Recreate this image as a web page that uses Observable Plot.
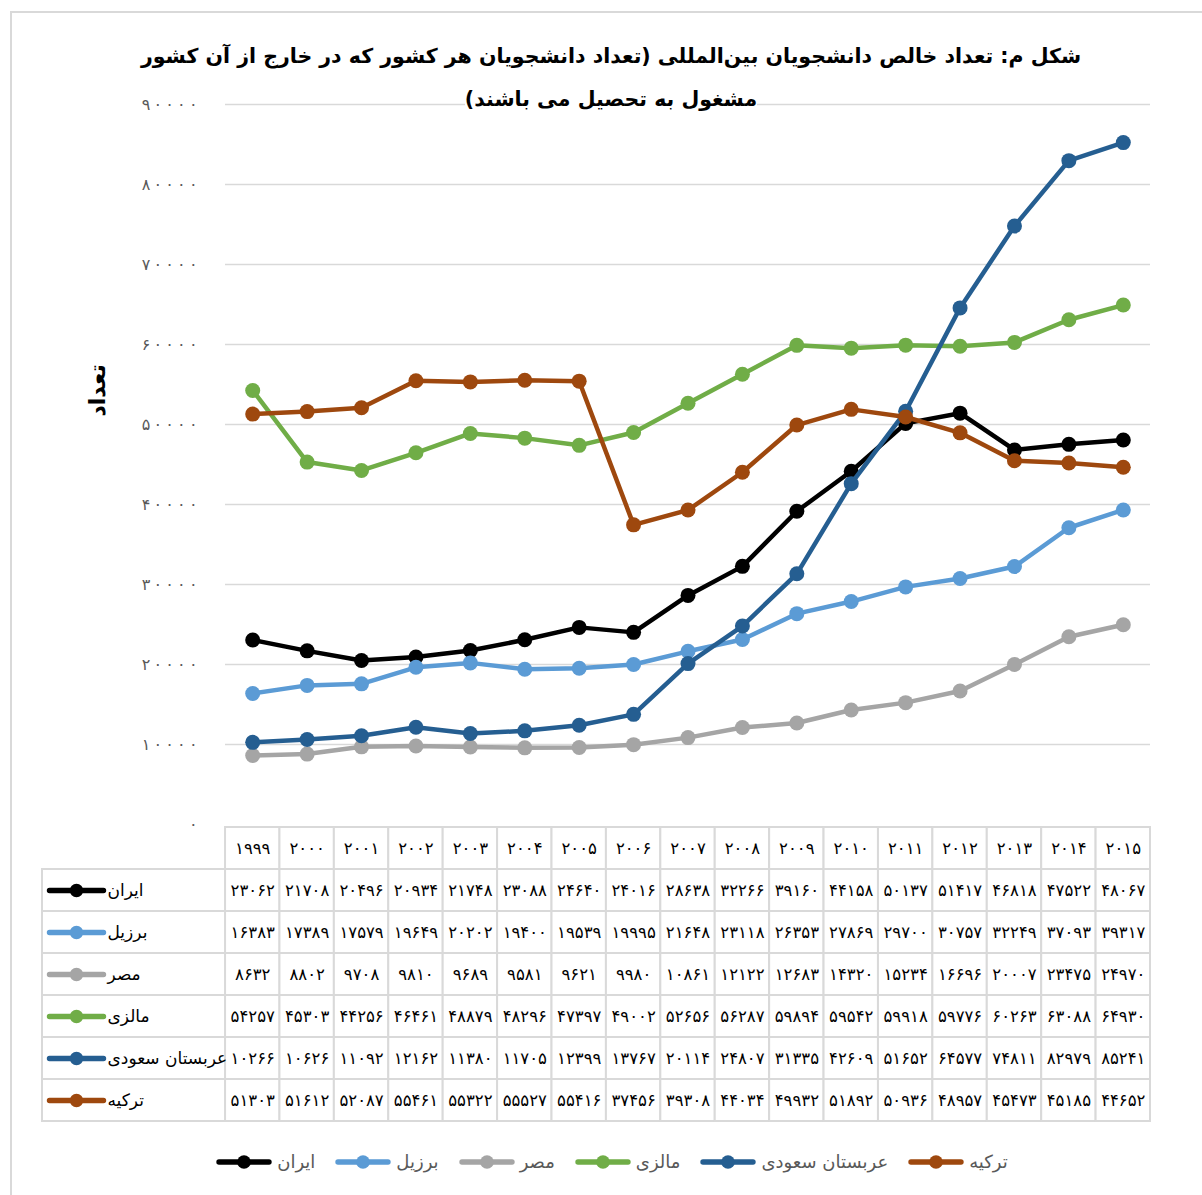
<!DOCTYPE html>
<html><head><meta charset="utf-8">
<script src="https://cdn.jsdelivr.net/npm/d3@7"></script>
<script src="https://cdn.jsdelivr.net/npm/@observablehq/plot@0.6"></script>
<style>
body{margin:0;background:#fff;font-family:"DejaVu Sans",sans-serif;}
#wrap{position:relative;width:1202px;height:1195px;overflow:hidden;background:#fff}
#frame{position:absolute;left:10px;top:11px;width:1200px;height:1200px;border:2px solid #d9d9d9;box-sizing:border-box}
#chart{position:absolute;left:0;top:0}
#table{position:absolute;left:0;top:825px}
#title{position:absolute;left:10px;top:35px;width:1202px;text-align:center;font-weight:bold;font-size:20.5px;line-height:43px;color:#000;direction:rtl}
#title span{background:#fff}
#legend{position:absolute;left:11px;top:1151px;width:1202px;display:flex;justify-content:center;align-items:center;color:#595959;font-size:18px}
#legend .item{display:flex;align-items:center;margin:0 10px}
#legend .item svg{margin-right:5px}
</style>
</head><body>
<div id="wrap">
  <div id="frame"></div>
  <div id="chart"></div>
  <div id="table"></div>
  <div id="title"></div>
  <div id="legend"></div>
</div>
<script>
const titleLines = ["شکل م: تعداد خالص دانشجویان بین‌المللی (تعداد دانشجویان هر کشور که در خارج از آن کشور", "مشغول به تحصیل می باشند)"];
const yTitle = "تعداد";
const years = [1999,2000,2001,2002,2003,2004,2005,2006,2007,2008,2009,2010,2011,2012,2013,2014,2015];
const countries = ["ایران","برزیل","مصر","مالزی","عربستان سعودی","ترکیه"];
const colors = ["#000000","#5b9bd5","#a5a5a5","#70ad47","#255e91","#9e480e"];
const iran     = [23062,21708,20496,20934,21748,23088,24640,24016,28638,32266,39160,44158,50137,51417,46818,47522,48067];
const brazil   = [16383,17389,17579,19649,20202,19400,19539,19995,21648,23118,26353,27869,29700,30757,32249,37093,39317];
const egypt    = [8632,8802,9708,9810,9689,9581,9621,9980,10861,12122,12683,14320,15234,16696,20007,23475,24970];
const malaysia = [54257,45303,44256,46461,48879,48296,47397,49002,52656,56287,59894,59542,59918,59776,60263,63088,64930];
const saudi    = [10266,10626,11092,12162,11380,11705,12399,13767,20114,24807,31335,42609,51652,64577,74811,82979,85241];
const turkey   = [51303,51612,52087,55461,55322,55527,55416,37456,39308,44034,49932,51892,50936,48957,45473,45185,44652];
const yTicks = [0,10000,20000,30000,40000,50000,60000,70000,80000,90000];

const series = [iran, brazil, egypt, malaysia, saudi, turkey];
const fa = v => String(v).replace(/\d/g, d => "۰۱۲۳۴۵۶۷۸۹"[+d]);
const faSpaced = v => [...fa(v)].join("\u2009");
const rows = countries.flatMap((c,i) => years.map((yr,j) => ({country:c, year:yr, value:series[i][j]})));
const colorScale = {domain: countries, range: colors};

// title
document.getElementById("title").innerHTML = titleLines.map(l => `<span>${l}</span>`).join("<br>");

// main chart
const chart = Plot.plot({
  width: 1202, height: 826,
  marginTop: 104, marginBottom: 2, marginLeft: 225, marginRight: 52,
  x: {type: "linear", domain: [years[0]-0.5, years[years.length-1]+0.5], axis: null},
  y: {domain: [0, 90000]},
  color: colorScale,
  style: {background: "transparent", fontFamily: "DejaVu Sans", overflow: "visible"},
  marks: [
    Plot.ruleY(yTicks.filter(d => d > 0), {stroke: "#d9d9d9", strokeWidth: 1.5, strokeOpacity: 1}),
    Plot.axisY(yTicks, {tickSize: 0, tickPadding: 28, tickFormat: faSpaced, fontSize: 16, color: "#595959", label: null}),
    ...countries.flatMap(c => {
      const d = rows.filter(r => r.country === c);
      return [
        Plot.line(d, {x: "year", y: "value", stroke: "country", strokeWidth: 4.5}),
        Plot.dot(d, {x: "year", y: "value", fill: "country", r: 7.5})
      ];
    }),
    Plot.text([yTitle], {frameAnchor: "top-left", dx: -136, dy: 312, rotate: -90, fontSize: 22, fontWeight: "bold", fill: "#000"})
  ]
});
document.getElementById("chart").append(chart);

// swatch symbol (line with dot)
const swatch = {draw(ctx) {
  const w = 27, h = 2.7, r = 6.8;
  ctx.moveTo(-w, -h); ctx.lineTo(w, -h);
  ctx.arc(w, 0, h, -Math.PI/2, Math.PI/2);
  ctx.lineTo(-w, h);
  ctx.arc(-w, 0, h, Math.PI/2, 3*Math.PI/2);
  ctx.closePath();
  ctx.moveTo(r, 0); ctx.arc(0, 0, r, 0, 2*Math.PI); ctx.closePath();
}};

// data table
const labelCols = 3.364;
const left = years[0] - 0.5 - labelCols;
const tbl = Plot.plot({
  width: 1202, height: 298,
  marginTop: 1, marginBottom: 1, marginLeft: 42, marginRight: 52,
  x: {type: "linear", domain: [left, years[years.length-1]+0.5], axis: null},
  y: {type: "band", domain: ["h", ...countries], padding: 0, axis: null},
  color: colorScale,
  style: {background: "transparent", fontFamily: "DejaVu Sans", overflow: "visible"},
  marks: [
    Plot.barX(years, {x1: d => d-0.5, x2: d => d+0.5, y: () => "h", fill: "#fff", stroke: "#d9d9d9", strokeWidth: 2}),
    Plot.barX(rows, {x1: d => d.year-0.5, x2: d => d.year+0.5, y: "country", fill: "#fff", stroke: "#d9d9d9", strokeWidth: 2}),
    Plot.barX(countries, {x1: () => left, x2: () => years[0]-0.5, y: d => d, fill: "#fff", stroke: "#d9d9d9", strokeWidth: 2}),
    Plot.text(years, {x: d => d, y: () => "h", text: d => fa(d), fontSize: 16.5, fill: "#000"}),
    Plot.text(rows, {x: "year", y: "country", text: d => fa(d.value), fontSize: 16.5, fill: "#000"}),
    Plot.dot(countries, {x: () => left, y: d => d, dx: 34, symbol: swatch, fill: d => d}),
    Plot.text(countries, {x: () => left, y: d => d, dx: 65, text: d => d, textAnchor: "start", fontSize: 17, fill: "#000"})
  ]
});
document.getElementById("table").append(tbl);

// legend
const leg = document.getElementById("legend");
countries.forEach((c, i) => {
  const it = document.createElement("div");
  it.className = "item";
  it.innerHTML = `<svg width="56" height="16"><line x1="3" y1="8" x2="53" y2="8" stroke="${colors[i]}" stroke-width="5.4" stroke-linecap="round"/><circle cx="28" cy="8" r="6.8" fill="${colors[i]}"/></svg><span>${c}</span>`;
  leg.append(it);
});
</script>
</body></html>
